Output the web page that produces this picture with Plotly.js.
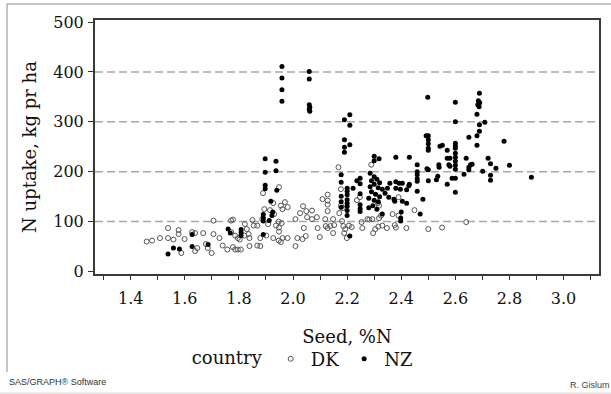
<!DOCTYPE html>
<html>
<head>
<meta charset="utf-8">
<script src="https://cdn.plot.ly/plotly-3.0.1.min.js"></script>
<style>html,body{margin:0;padding:0;background:#fff;}#chart{width:611px;height:394px;}</style>
</head>
<body>
<div id="chart"></div>
<script>
// Seed N concentration (%N) and N uptake (kg N per ha), by country
const dkX = [1.459,1.479,1.508,1.538,1.538,1.558,1.577,1.577,1.587,1.599,
  1.627,1.638,1.638,1.646,1.668,1.678,1.685,1.699,1.706,1.706,
  1.728,1.74,1.757,1.771,1.771,1.778,1.778,1.786,1.786,1.796,
  1.796,1.807,1.803,1.822,1.829,1.836,1.839,1.839,1.85,1.855,
  1.868,1.868,1.879,1.879,1.886,1.889,1.894,1.901,1.908,1.915,
  1.927,1.927,1.93,1.937,1.948,1.948,1.948,1.947,1.947,1.955,
  1.955,1.961,1.958,1.961,1.97,1.98,1.98,2.009,2.009,2.016,
  2.026,2.035,2.037,2.04,2.047,2.049,2.052,2.07,2.07,2.088,
  2.091,2.099,2.109,2.119,2.121,2.128,2.128,2.128,2.128,2.128,
  2.138,2.148,2.148,2.152,2.168,2.171,2.177,2.177,2.184,2.181,
  2.186,2.193,2.189,2.199,2.207,2.217,2.236,2.247,2.253,2.256,
  2.275,2.282,2.289,2.293,2.296,2.304,2.314,2.318,2.315,2.318,
  2.325,2.33,2.347,2.368,2.376,2.38,2.39,2.39,2.419,2.449,
  2.5,2.551,2.64,1.82];
const dkY = [60,62,67,87,67,64,83,75,37,65,
  79,77,41,47,77,55,47,37,102,75,
  67,52,44,79,102,104,49,72,44,67,
  44,44,64,95,85,75,67,51,103,92,
  92,52,51,67,105,157,125,72,95,123,
  137,67,115,92,80,88,169,100,62,59,
  132,125,97,67,139,129,67,51,105,67,
  117,65,131,87,71,121,109,122,105,109,
  87,69,145,105,91,154,142,134,121,87,
  91,105,77,93,209,117,165,132,127,101,
  91,85,77,67,92,89,143,149,99,87,
  105,104,214,105,77,85,137,132,90,107,
  112,92,87,115,93,88,149,112,87,123,
  85,88,99,72];

const nzX = [1.538,1.558,1.58,1.627,1.627,1.686,1.76,1.768,1.808,1.808,
  1.808,1.89,1.897,1.897,1.897,1.897,1.918,1.925,1.922,1.89,
  1.89,1.89,1.912,1.937,1.937,1.94,1.959,1.959,1.959,1.959,
  2.06,2.06,2.06,2.062,2.06,2.062,2.19,2.19,2.19,2.19,
  2.21,2.21,2.21,2.178,2.178,2.178,2.178,2.178,2.2,2.2,
  2.2,2.2,2.2,2.2,2.2,2.2,2.21,2.222,2.236,2.248,
  2.248,2.248,2.248,2.248,2.248,2.3,2.318,2.3,2.285,2.3,
  2.31,2.29,2.32,2.3,2.285,2.315,2.33,2.29,2.305,2.32,
  2.28,2.3,2.315,2.295,2.28,2.31,2.33,2.34,2.349,2.358,
  2.354,2.373,2.38,2.38,2.38,2.376,2.392,2.397,2.404,2.404,
  2.398,2.398,2.4,2.42,2.42,2.428,2.43,2.43,2.459,2.459,
  2.459,2.459,2.459,2.459,2.48,2.47,2.498,2.492,2.5,2.5,
  2.5,2.5,2.5,2.495,2.5,2.5,2.543,2.552,2.57,2.539,
  2.54,2.53,2.535,2.57,2.576,2.58,2.57,2.58,2.588,2.6,
  2.6,2.6,2.6,2.6,2.6,2.6,2.6,2.6,2.6,2.6,
  2.6,2.632,2.64,2.65,2.65,2.65,2.656,2.662,2.689,2.685,
  2.69,2.683,2.688,2.68,2.689,2.689,2.68,2.68,2.709,2.701,
  2.721,2.73,2.75,2.73,2.73,2.78,2.8,2.881];
const nzY = [35,47,45,74,50,54,85,77,84,78,
  72,74,226,199,173,166,141,119,112,114,
  107,101,102,221,202,163,411,388,364,341,
  401,386,334,329,325,321,304,264,249,239,
  314,293,254,194,179,151,140,129,167,161,
  154,144,137,131,122,112,71,167,182,187,
  176,156,134,126,120,231,226,222,197,190,
  185,182,178,175,170,168,165,160,155,150,
  147,143,140,132,128,125,115,157,167,177,
  149,145,229,180,167,141,177,165,177,141,
  107,101,119,137,164,172,229,175,214,200,
  194,186,181,161,145,115,349,272,272,264,
  256,247,243,206,204,182,251,253,243,214,
  209,184,191,175,214,211,227,227,187,339,
  300,257,252,247,237,229,221,213,205,187,
  159,195,227,269,209,204,214,215,357,342,
  338,334,330,315,294,281,272,253,299,201,
  227,216,207,193,183,261,213,189];

const countries = ["DK", "NZ"];
const xTicks = [1.4, 1.6, 1.8, 2.0, 2.2, 2.4, 2.6, 2.8, 3.0];
const xTickLabels = ["1.4", "1.6", "1.8", "2.0", "2.2", "2.4", "2.6", "2.8", "3.0"];
const yTicks = [0, 100, 200, 300, 400, 500];
const yTickLabels = ["0", "100", "200", "300", "400", "500"];
const gridVals = [100, 200, 300, 400];

const serif = "DejaVu Serif, Liberation Serif, serif";
const sans = "Liberation Sans, Arial, sans-serif";
const ink = "#111111";

const traces = [
  {
    type: "scatter", mode: "markers", name: countries[0],
    x: dkX, y: dkY,
    marker: {symbol: "circle-open", size: 5, color: "#555555", line: {width: 1, color: "#555555"}}
  },
  {
    type: "scatter", mode: "markers", name: countries[1],
    x: nzX, y: nzY,
    marker: {symbol: "circle", size: 5, color: "#000000"}
  }
];

const shapes = gridVals.map(v => ({
  type: "line", xref: "paper", yref: "y", x0: 0, x1: 1, y0: v, y1: v,
  line: {color: "#a8a8a8", width: 1.5, dash: "8px,4px"}, layer: "below"
}));
// outer page frame lines
shapes.push({type: "line", xref: "paper", yref: "paper", x0: -0.1746, x1: 1.03, y0: 1.063, y1: 1.063, line: {color: "#8a8a8a", width: 1}});
shapes.push({type: "line", xref: "paper", yref: "paper", x0: -0.1746, x1: -0.1746, y0: 1.063, y1: -0.386, line: {color: "#8a8a8a", width: 1}});
shapes.push({type: "line", xref: "paper", yref: "paper", x0: -0.19, x1: 1.03, y0: -0.469, y1: -0.469, line: {color: "#d0d0d0", width: 1}});

const layout = {
  width: 611, height: 394,
  margin: {l: 95, r: 12, t: 20, b: 120},
  paper_bgcolor: "#ffffff", plot_bgcolor: "#ffffff",
  font: {family: serif, color: ink, size: 16},
  showlegend: true,
  xaxis: {
    range: [1.268, 3.131],
    tickmode: "array", tickvals: xTicks, ticktext: xTickLabels,
    ticks: "outside", ticklen: 4, tickwidth: 1, tickcolor: "#333333",
    minor: {tickmode: "linear", tick0: 1.3, dtick: 0.1, ticks: "outside", ticklen: 4, tickcolor: "#333333", showgrid: false},
    showline: true, linewidth: 2, linecolor: "#3a3a3a", mirror: true,
    showgrid: false, zeroline: false,
    tickfont: {family: serif, size: 16, color: ink},
    ticklabelstandoff: 5,
    title: {text: "Seed, %N", font: {family: serif, size: 18, color: ink}, standoff: 23}
  },
  yaxis: {
    range: [-5, 504],
    tickmode: "array", tickvals: yTicks, ticktext: yTickLabels,
    ticks: "outside", ticklen: 5, tickwidth: 1, tickcolor: "#333333",
    showline: true, linewidth: 2, linecolor: "#3a3a3a", mirror: true,
    showgrid: false, zeroline: false,
    tickfont: {family: serif, size: 16, color: ink},
    ticklabelstandoff: 1,
    title: {text: "N uptake, kg pr ha", font: {family: serif, size: 18, color: ink}, standoff: 12}
  },
  legend: {
    orientation: "h", x: 0.188, xanchor: "left", y: -0.335, yanchor: "middle",
    title: {text: "country", side: "left", font: {family: serif, size: 18, color: ink}},
    font: {family: serif, size: 18, color: ink},
    bgcolor: "rgba(0,0,0,0)", itemwidth: 30
  },
  shapes: shapes,
  annotations: [
    {xref: "paper", yref: "paper", x: -0.1746, y: -0.425, xanchor: "left", yanchor: "middle", showarrow: false,
     text: "SAS/GRAPH® Software", font: {family: sans, size: 9, color: "#333333"}},
    {xref: "paper", yref: "paper", x: 0.9385, y: -0.437, xanchor: "left", yanchor: "middle", showarrow: false,
     text: "R. Gislum", font: {family: sans, size: 9, color: "#444444"}}
  ]
};

Plotly.newPlot("chart", traces, layout, {displayModeBar: false, staticPlot: true});
</script>
</body>
</html>
